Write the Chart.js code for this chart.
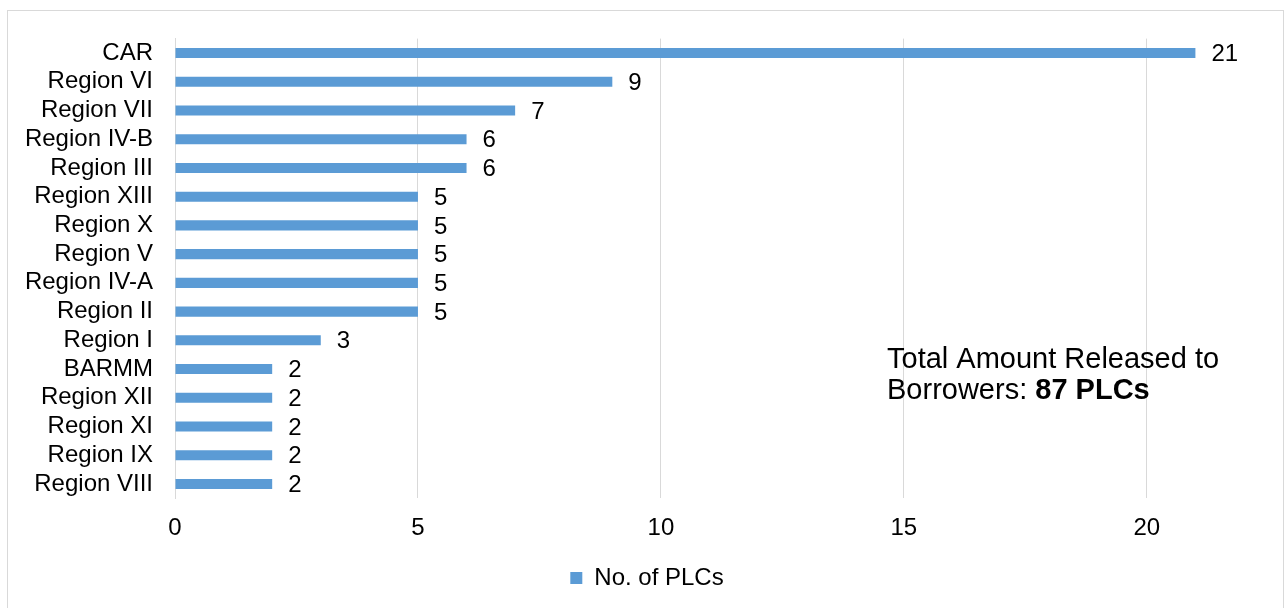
<!DOCTYPE html>
<html>
<head>
<meta charset="utf-8">
<script src="https://cdn.jsdelivr.net/npm/chart.js@4/dist/chart.umd.min.js"></script>
<style>
  html, body { margin: 0; padding: 0; background: #fff; }
  #wrap { position: relative; width: 1285px; height: 608px; }
</style>
</head>
<body>
<div id="wrap"><canvas id="c" width="1285" height="608"></canvas></div>
<script>
const categories = ["CAR", "Region VI", "Region VII", "Region IV-B", "Region III", "Region XIII", "Region X", "Region V", "Region IV-A", "Region II", "Region I", "BARMM", "Region XII", "Region XI", "Region IX", "Region VIII"];
const plcCounts = [21, 9, 7, 6, 6, 5, 5, 5, 5, 5, 3, 2, 2, 2, 2, 2];
const seriesName = "No. of PLCs";
const xTickValues = [0, 5, 10, 15, 20];
const noteLine1 = "Total Amount Released to";
const noteLine2a = "Borrowers: ";
const noteLine2b = "87 PLCs";

const FONT = "'Liberation Sans', Arial, sans-serif";
const FS = 24;
const BAR = "#5b9bd5";
const GRID = "#d9d9d9";

const frame = {
  id: 'frame',
  beforeDraw(chart) {
    const ctx = chart.ctx;
    ctx.save();
    ctx.strokeStyle = GRID;
    ctx.lineWidth = 1;
    ctx.strokeRect(7.5, 10.5, 1276, 640);
    ctx.restore();
  }
};

const legendShift = {
  id: 'legendShift',
  afterLayout(chart) {
    const l = chart.legend;
    if (l) { l.left += 25; l.right += 25; }
  }
};

const valueLabels = {
  id: 'valueLabels',
  afterDatasetsDraw(chart) {
    const ctx = chart.ctx;
    const meta = chart.getDatasetMeta(0);
    ctx.save();
    ctx.font = FS + "px " + FONT;
    ctx.fillStyle = "#000";
    ctx.textAlign = "left";
    ctx.textBaseline = "middle";
    meta.data.forEach((bar, i) => {
      ctx.fillText(String(plcCounts[i]), bar.x + 16, bar.y + 1.5);
    });
    ctx.restore();
  }
};

const note = {
  id: 'note',
  afterDraw(chart) {
    const ctx = chart.ctx;
    const a = chart.chartArea;
    const x = a.left + 712;
    const y1 = a.top + 329.5;
    const y2 = y1 + 31;
    ctx.save();
    ctx.fillStyle = "#000";
    ctx.textAlign = "left";
    ctx.textBaseline = "alphabetic";
    ctx.font = "29px " + FONT;
    ctx.fillText(noteLine1, x, y1);
    ctx.fillText(noteLine2a, x, y2);
    const w = ctx.measureText(noteLine2a).width;
    ctx.font = "bold 29px " + FONT;
    ctx.fillText(noteLine2b, x + w, y2);
    ctx.restore();
  }
};

new Chart(document.getElementById('c'), {
  type: 'bar',
  data: {
    labels: categories,
    datasets: [{
      label: seriesName,
      data: plcCounts,
      backgroundColor: BAR,
      borderWidth: 0,
      barPercentage: 0.35,
      categoryPercentage: 1.0
    }]
  },
  options: {
    indexAxis: 'y',
    responsive: false,
    animation: false,
    devicePixelRatio: 1,
    layout: { padding: { left: 0, right: 41, top: 38.6, bottom: 8 } },
    plugins: {
      legend: {
        display: true,
        position: 'bottom',
        labels: {
          color: '#000',
          font: { family: FONT, size: FS },
          boxWidth: 12,
          boxHeight: 12,
          padding: 10
        }
      },
      tooltip: { enabled: false }
    },
    scales: {
      x: {
        type: 'linear',
        min: 0,
        max: 22,
        afterBuildTicks: (s) => { s.ticks = xTickValues.map(v => ({ value: v })); },
        afterFit: (s) => {
          const lh = s.chart.legend ? s.chart.legend.height : 0;
          s.height = s.chart.height - 8 - lh - 498.4;
        },
        grid: { color: GRID, lineWidth: 1, drawTicks: false },
        border: { display: false },
        ticks: {
          color: '#000',
          font: { family: FONT, size: FS },
          padding: 16,
          maxRotation: 0
        }
      },
      y: {
        afterFit: (s) => { s.width = 175; },
        grid: { display: false, drawTicks: false },
        border: { display: true, color: GRID, width: 1 },
        ticks: {
          color: '#000',
          font: { family: FONT, size: FS },
          padding: 22,
          autoSkip: false
        }
      }
    }
  },
  plugins: [frame, legendShift, valueLabels, note]
});
</script>
</body>
</html>
